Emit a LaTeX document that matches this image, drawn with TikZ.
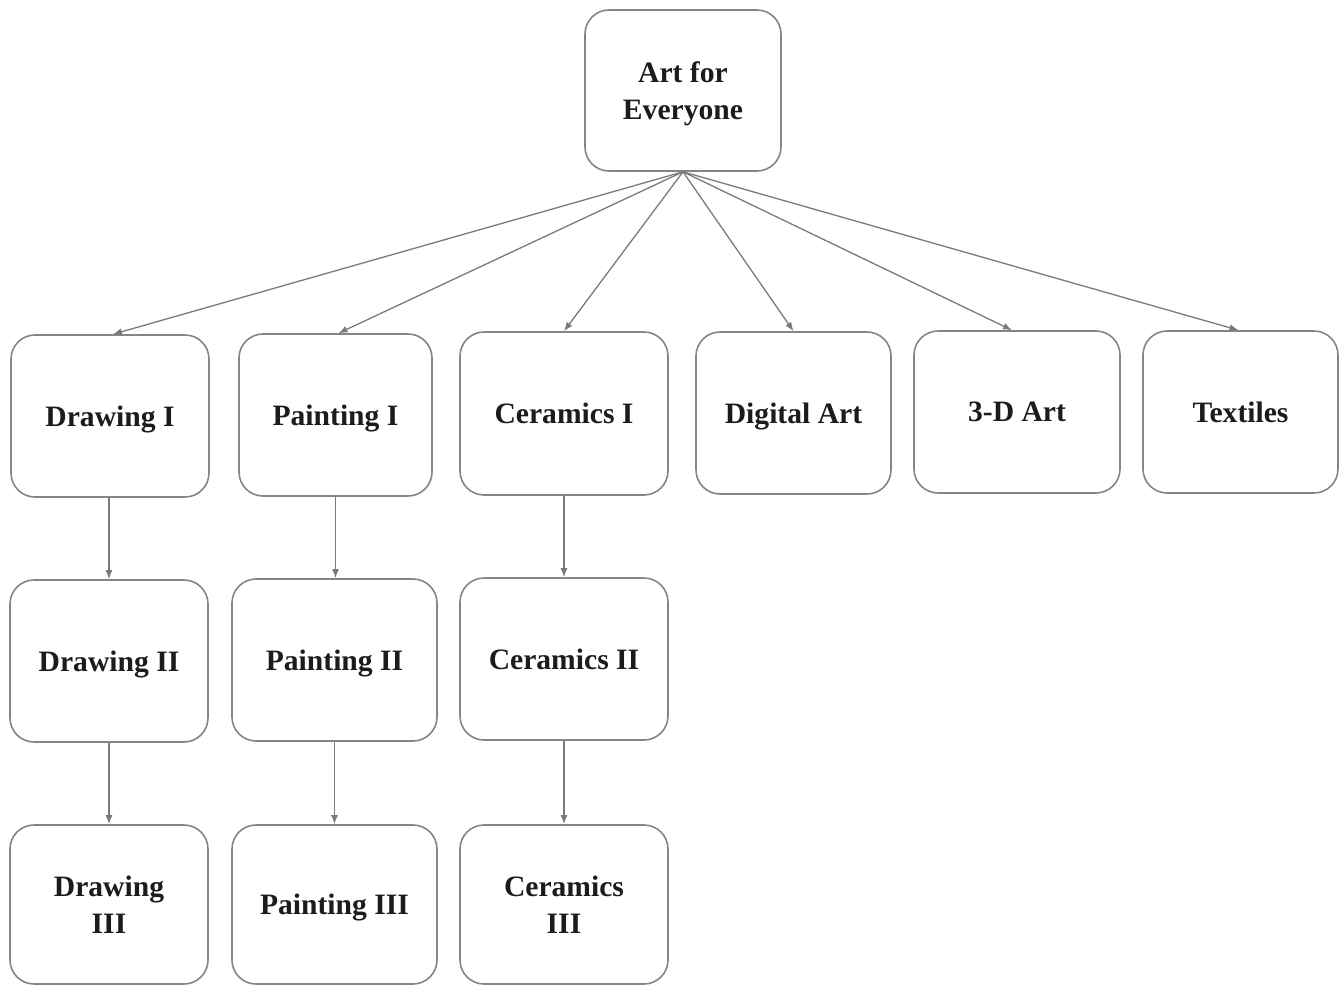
\documentclass[tikz,border=0pt]{standalone}
\usepackage{fontspec}
\setmainfont{Liberation Serif}
\usetikzlibrary{arrows.meta}
\definecolor{edge}{HTML}{7A7A7A}
\definecolor{frame}{HTML}{858585}
\definecolor{ink}{HTML}{1C1C1C}
\tikzset{
  course/.style={draw=frame, line width=1.6pt, rounded corners=24pt, fill=white,
    align=center, text=ink, font=\bfseries\fontsize{29.6}{37}\selectfont,
    inner sep=0pt, text depth=0pt},
  link/.style={draw=edge, line width=1.3pt, -{Latex[length=9pt,width=7pt]}}
}
\begin{document}
\begin{tikzpicture}[x=1pt,y=-1pt]
  \useasboundingbox (0,0) rectangle (1342,985);
  % box(name, left, top, right, bottom, text)
  \newcommand{\coursebox}[6]{%
    \node[course, minimum width={#4-#2}, minimum height={#5-#3}]
      (#1) at ({(#2+#4)/2},{(#3+#5)/2}) {#6};}
  \coursebox{root}{585}{10}{781}{171}{Art for\\Everyone}
  \coursebox{d1}{11}{335}{209}{497}{Drawing I}
  \coursebox{p1}{239}{334}{432}{496}{Painting I}
  \coursebox{c1}{460}{332}{668}{495}{Ceramics I}
  \coursebox{da}{696}{332}{891}{494}{Digital Art}
  \coursebox{td}{914}{331}{1120}{493}{3-D Art}
  \coursebox{tx}{1143}{331}{1338}{493}{Textiles}
  \coursebox{d2}{10}{580}{208}{742}{Drawing II}
  \coursebox{p2}{232}{579}{437}{741}{Painting II}
  \coursebox{c2}{460}{578}{668}{740}{Ceramics II}
  \coursebox{d3}{10}{825}{208}{984}{Drawing\\III}
  \coursebox{p3}{232}{825}{437}{984}{Painting III}
  \coursebox{c3}{460}{825}{668}{984}{Ceramics\\III}
  % fan-out from the root
  \coordinate (hub) at (root.south);
  \draw[link] (hub) -- ([xshift=3pt]d1.north);
  \draw[link] (hub) -- ([xshift=3pt]p1.north);
  \draw[link] (hub) -- (c1.north);
  \draw[link] (hub) -- (da.north);
  \draw[link] (hub) -- ([xshift=-5pt]td.north);
  \draw[link] (hub) -- ([xshift=-2pt]tx.north);
  % sequences
  \draw[link] (d2.north |- d1.south) -- (d2.north);
  \draw[link] (p1.south) -- (p1.south |- p2.north);
  \draw[link] (c1.south) -- (c1.south |- c2.north);
  \draw[link] (d2.south) -- (d3.north);
  \draw[link] (p2.south) -- (p2.south |- p3.north);
  \draw[link] (c2.south) -- (c2.south |- c3.north);
\end{tikzpicture}
\end{document}
